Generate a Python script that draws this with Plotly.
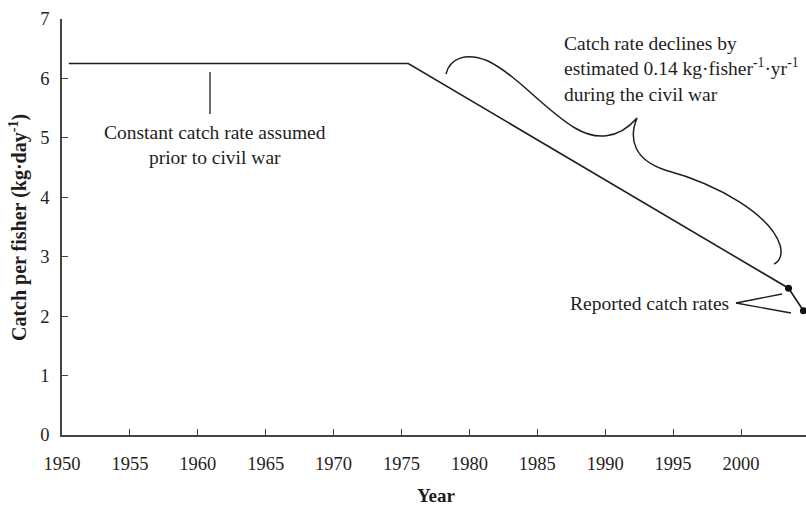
import plotly.graph_objects as go

# Data
years = [1950.5, 1975.5, 2003.5, 2004.6]
catch_rate = [6.25, 6.25, 2.47, 2.09]
reported_years = [2003.5, 2004.6]
reported_rates = [2.47, 2.09]

x_ticks = list(range(1950, 2005, 5))
y_ticks = list(range(0, 8))

W, H = 806, 506
PL, PR, PT, PB = 62, 806, 19, 435          # plot area in page pixels
X_RANGE = [1950, 1950 + (PR - PL) / 13.58]
Y_RANGE = [0, 7]

FONT = "Liberation Serif"
INK = "#1e1e1e"
AXIS = "#444444"


def frac(xp, yp):
    return (xp - PL) / (PR - PL), (PB - yp) / (PB - PT)


def px(xp, yp):
    """Page pixel -> data coordinates (for annotation placement)."""
    fx, fy = frac(xp, yp)
    return (X_RANGE[0] + fx * (X_RANGE[1] - X_RANGE[0]),
            Y_RANGE[0] + fy * (Y_RANGE[1] - Y_RANGE[0]))


def path(cmds):
    out = []
    for c, pts in cmds:
        coords = " ".join("%.4f,%.4f" % px(a, b) for a, b in pts)
        out.append(f"{c} {coords}")
    return " ".join(out)


fig = go.Figure()
fig.add_trace(go.Scatter(
    x=years, y=catch_rate, mode="lines",
    line=dict(color=INK, width=1.6), showlegend=False, cliponaxis=False,
))
fig.add_trace(go.Scatter(
    x=reported_years, y=reported_rates, mode="markers",
    marker=dict(color="#111111", size=7), showlegend=False, cliponaxis=False,
))

# curly brace over the decline
brace = path([
    ("M", [(446, 74)]),
    ("C", [(450, 58), (466, 52), (488, 61)]),
    ("C", [(518, 76), (545, 110), (575, 128)]),
    ("C", [(595, 140), (618, 140), (637, 118)]),
    ("C", [(628, 140), (635, 160), (665, 170)]),
    ("C", [(720, 185), (770, 215), (780, 245)]),
    ("C", [(783, 255), (779, 262), (774, 264)]),
])
fig.add_shape(type="path", path=brace, xref="x", yref="y",
              line=dict(color=INK, width=1.5))

# pointer under the flat segment
x0, y0 = px(210, 72)
x1, y1 = px(210, 114)
fig.add_shape(type="line", x0=x0, y0=y0, x1=x1, y1=y1, xref="x", yref="y",
              line=dict(color=INK, width=1.3))

# pointers to the reported catch rates
for tx, ty in [(782, 294), (791, 313)]:
    a0, b0 = px(736, 303)
    a1, b1 = px(tx, ty)
    fig.add_shape(type="line", x0=a0, y0=b0, x1=a1, y1=b1, xref="x", yref="y",
                  line=dict(color=INK, width=1.3))

TXT = dict(family=FONT, size=19.5, color=INK)

ax, ay = px(215, 145)
fig.add_annotation(x=ax, y=ay, xref="x", yref="y", showarrow=False,
                   text="Constant catch rate assumed<br>prior to civil war",
                   align="center", font=TXT)
ax, ay = px(562, 69)
fig.add_annotation(x=ax, y=ay, xref="x", yref="y", showarrow=False,
                   xanchor="left",
                   text=("Catch rate declines by<br>"
                         "estimated 0.14 kg·fisher<sup>-1</sup>·yr<sup>-1</sup><br>"
                         "during the civil war"),
                   align="left", font=TXT)
ax, ay = px(731, 303)
fig.add_annotation(x=ax, y=ay, xref="x", yref="y", showarrow=False,
                   xanchor="right", text="Reported catch rates", font=TXT)

# axis titles
fx, fy = frac(436, 495)
fig.add_annotation(x=fx, y=fy, xref="paper", yref="paper", showarrow=False,
                   xanchor="center", yanchor="middle",
                   text="<b>Year</b>", font=dict(family=FONT, size=19, color=INK))
fx, fy = frac(18, 228)
fig.add_annotation(x=fx, y=fy, xref="paper", yref="paper", showarrow=False,
                   xanchor="center", yanchor="middle", textangle=-90,
                   text="<b>Catch per fisher (kg·day<sup>-1</sup>)</b>",
                   font=dict(family=FONT, size=20, color=INK))

fig.update_layout(
    width=W, height=H,
    margin=dict(l=PL, r=W - PR, t=PT, b=H - PB),
    paper_bgcolor="white", plot_bgcolor="white",
    font=dict(family=FONT, size=18.5, color=INK),
    xaxis=dict(
        range=X_RANGE, tickvals=x_ticks, ticks="inside", ticklen=6,
        tickcolor=AXIS, showline=True, linecolor=AXIS, linewidth=1.5,
        showgrid=False, zeroline=False, ticklabelstandoff=11,
    ),
    yaxis=dict(
        range=Y_RANGE, tickvals=y_ticks, ticks="inside", ticklen=6,
        tickcolor=AXIS, showline=True, linecolor=AXIS, linewidth=1.5,
        showgrid=False, zeroline=False, ticklabelstandoff=7,
    ),
)

# the page's default body margin would push the figure out of the window
fig.write_html("out.html", config={"displayModeBar": False},
               post_script="document.body.style.margin='0';")
